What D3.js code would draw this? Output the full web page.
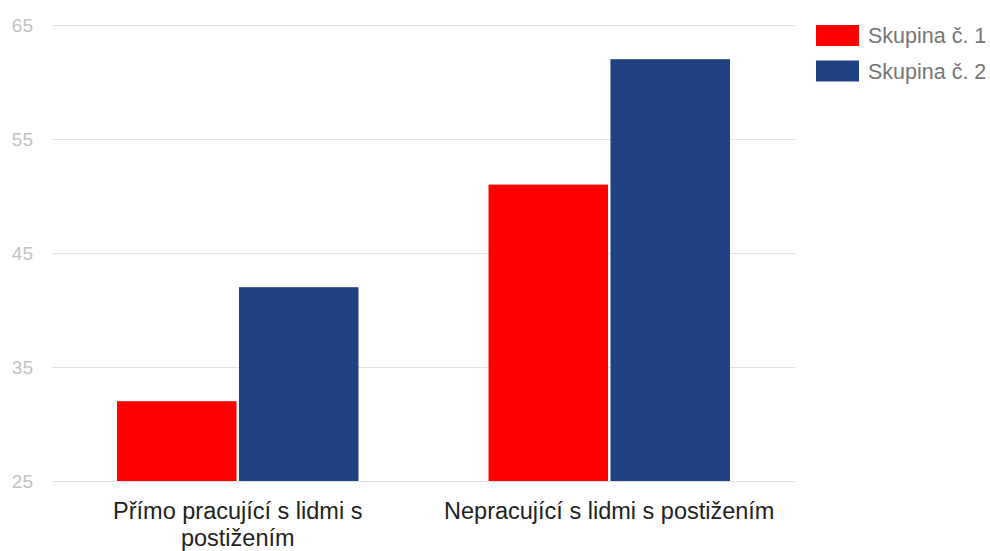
<!DOCTYPE html>
<html><head><meta charset="utf-8">
<script src="https://cdn.jsdelivr.net/npm/d3@7"></script>
<style>body{margin:0;background:#fff}svg{display:block;font-family:"Liberation Sans",Arial,sans-serif}</style>
</head><body><svg id="c" width="990" height="551"></svg>
<script>
const categories = [["Přímo pracující s lidmi s", "postižením"], ["Nepracující s lidmi s postižením"]];
const seriesNames = ["Skupina č. 1", "Skupina č. 2"];
const series1 = [32, 51];
const series2 = [42, 62];
const yTicks = [25, 35, 45, 55, 65];
const colors = ["#ff0000", "#1f4283"];

(function () {
const svg = d3.select("#c");
const mLeft = 52, mRight = 795, mTop = 25, mBottom = 481;
const y = d3.scaleLinear().domain([25, 65]).range([mBottom, mTop]);
const x0 = d3.scaleBand().domain(d3.range(categories.length)).range([mLeft, mRight]).paddingInner(0.35).paddingOuter(0.175);
const x1 = d3.scaleBand().domain([0, 1]).range([0, x0.bandwidth()]).paddingInner(0.02);

const yAxis = d3.axisLeft(y).tickValues(yTicks).tickSize(-(mRight - mLeft)).tickPadding(19);
const ga = svg.append("g").attr("transform", `translate(${mLeft},0)`).call(yAxis);
ga.select(".domain").remove();
ga.selectAll(".tick line").attr("stroke", "#e0e0e0").attr("stroke-width", 1);
ga.selectAll(".tick text").attr("fill", "#c2c2c2").attr("font-size", 19).attr("font-family", "Liberation Sans, Arial").attr("dy", "0.36em");

const data = categories.map((c, i) => [series1[i], series2[i]]);
const g = svg.append("g");
data.forEach((vals, i) => {
  g.selectAll(null).data(vals).enter().append("rect")
    .attr("x", (d, j) => x0(i) + x1(j))
    .attr("width", x1.bandwidth())
    .attr("y", d => y(d))
    .attr("height", d => y(25) - y(d))
    .attr("fill", (d, j) => colors[j]);
});

categories.forEach((lines, i) => {
  const cx = x0(i) + x0.bandwidth() / 2;
  const t = svg.append("text").attr("text-anchor", "middle").attr("fill", "#222").attr("font-size", 23.5);
  lines.forEach((l, k) => t.append("tspan").attr("x", cx).attr("y", 519 + k * 27).text(l));
});

const lg = svg.append("g");
seriesNames.forEach((n, i) => {
  lg.append("rect").attr("x", 816).attr("y", 25 + i * 35.5).attr("width", 43).attr("height", 21).attr("fill", colors[i]);
  lg.append("text").attr("x", 868).attr("y", 43 + i * 35.5).attr("font-size", 21.5).attr("fill", "#767676").text(n);
});
})();
</script></body></html>
